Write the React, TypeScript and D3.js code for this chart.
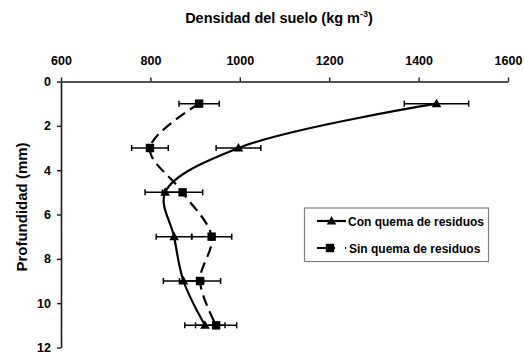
import * as d3 from 'd3';
import { useRef, useEffect } from 'react';

// profundidad (mm) de cada muestreo
const depth = [1, 3, 5, 7, 9, 11];
// densidad del suelo, con quema de residuos
const conQuema = [1440, 997, 833, 853, 874, 922];
const conQuemaErr = [72, 50, 45, 40, 45, 45];
// densidad del suelo, sin quema de residuos
const sinQuema = [909, 799, 872, 937, 911, 947];
const sinQuemaErr = [45, 41, 45, 45, 46, 46];

const xTicks = [600, 800, 1000, 1200, 1400, 1600];
const yTicks = [0, 2, 4, 6, 8, 10, 12];

const seriesNames = ['Con quema de residuos', 'Sin quema de residuos'];

function App() {
  const xAxisRef = useRef(null);
  const yAxisRef = useRef(null);
  const width = 524;
  const height = 354;
  const font = '"Liberation Sans", Arial, sans-serif';

  const x = d3.scaleLinear().domain([600, 1600]).range([61, 508]);
  const y = d3.scaleLinear().domain([0, 12]).range([81.5, 347.5]);

  useEffect(() => {
    const gx = d3.select(xAxisRef.current);
    gx.call(
      d3
        .axisTop(x)
        .tickValues(xTicks)
        .tickFormat(d3.format('d'))
        .tickSize(4)
        .tickSizeOuter(0)
        .tickPadding(13)
    );
    const gy = d3.select(yAxisRef.current);
    gy.call(
      d3
        .axisLeft(y)
        .tickValues(yTicks)
        .tickFormat(d3.format('d'))
        .tickSize(4)
        .tickSizeOuter(0)
        .tickPadding(6)
    );
    [gx, gy].forEach((g) => {
      g.selectAll('path').attr('stroke', '#1a1a1a').attr('stroke-width', 1.6);
      g.selectAll('line').attr('stroke', '#1a1a1a').attr('stroke-width', 1.4);
      g.selectAll('text')
        .attr('fill', '#000')
        .attr('font-family', font)
        .attr('font-weight', 'bold')
        .attr('font-size', 12.5);
    });
  }, []);

  const line = d3
    .line()
    .x((d) => x(d[0]))
    .y((d) => y(d[1]))
    .curve(d3.curveCatmullRom.alpha(0.5));

  const conPts = conQuema.map((v, i) => [v, depth[i]]);
  const sinPts = sinQuema.map((v, i) => [v, depth[i]]);

  const errorBars = (vals, errs, key) =>
    vals.map((v, i) => {
      const yy = y(depth[i]);
      const x0 = x(v - errs[i]);
      const x1 = x(v + errs[i]);
      return (
        <g key={key + i} stroke="#000" strokeWidth={1.5}>
          <line x1={x0} x2={x1} y1={yy} y2={yy} />
          <line x1={x0} x2={x0} y1={yy - 3} y2={yy + 3} />
          <line x1={x1} x2={x1} y1={yy - 3} y2={yy + 3} />
        </g>
      );
    });

  const triangle = (cx, cy, k) => (
    <path
      key={k}
      d={`M${cx},${cy - 5}L${cx + 4.8},${cy + 3.5}L${cx - 4.8},${cy + 3.5}Z`}
      fill="#000"
    />
  );
  const square = (cx, cy, k) => (
    <rect key={k} x={cx - 4.2} y={cy - 4.2} width={8.4} height={8.4} fill="#000" />
  );

  return (
    <svg
      width={width}
      height={height}
      style={{ position: 'absolute', left: 0, top: 0, background: '#fff' }}
    >
      <text
        x={279}
        y={23}
        textAnchor="middle"
        fontFamily={font}
        fontWeight="bold"
        fontSize={14.5}
      >
        <tspan>Densidad del suelo (kg m</tspan>
        <tspan dy={-6} fontSize={9}>-3</tspan>
        <tspan dy={6}>)</tspan>
      </text>
      <text
        transform="translate(27,207) rotate(-90)"
        textAnchor="middle"
        fontFamily={font}
        fontWeight="bold"
        fontSize={15}
      >
        Profundidad (mm)
      </text>

      <g ref={xAxisRef} transform={`translate(0,${y(0)})`} />
      <g ref={yAxisRef} transform={`translate(${x(600)},0)`} />

      {errorBars(conQuema, conQuemaErr, 'ec')}
      {errorBars(sinQuema, sinQuemaErr, 'es')}

      <path d={line(conPts)} fill="none" stroke="#000" strokeWidth={2.2} />
      <path
        d={line(sinPts)}
        fill="none"
        stroke="#000"
        strokeWidth={2.2}
        strokeDasharray="11,6"
      />

      {conPts.map((d, i) => triangle(x(d[0]), y(d[1]), 't' + i))}
      {sinPts.map((d, i) => square(x(d[0]), y(d[1]), 's' + i))}

      <g>
        <rect x={304.5} y={208} width={184} height={53.5} fill="#fff" stroke="#808080" strokeWidth={1.2} />
        <line x1={317} x2={346} y1={221} y2={221} stroke="#000" strokeWidth={2.2} />
        {triangle(331.5, 221, 'lt')}
        <text x={348} y={225.5} fontFamily={font} fontWeight="bold" fontSize={12}>
          {seriesNames[0]}
        </text>
        <line
          x1={317}
          x2={346}
          y1={248}
          y2={248}
          stroke="#000"
          strokeWidth={2.2}
          strokeDasharray="18,10"
        />
        {square(330, 248, 'ls')}
        <text x={349} y={252.5} fontFamily={font} fontWeight="bold" fontSize={12}>
          {seriesNames[1]}
        </text>
      </g>
    </svg>
  );
}

export default App;
